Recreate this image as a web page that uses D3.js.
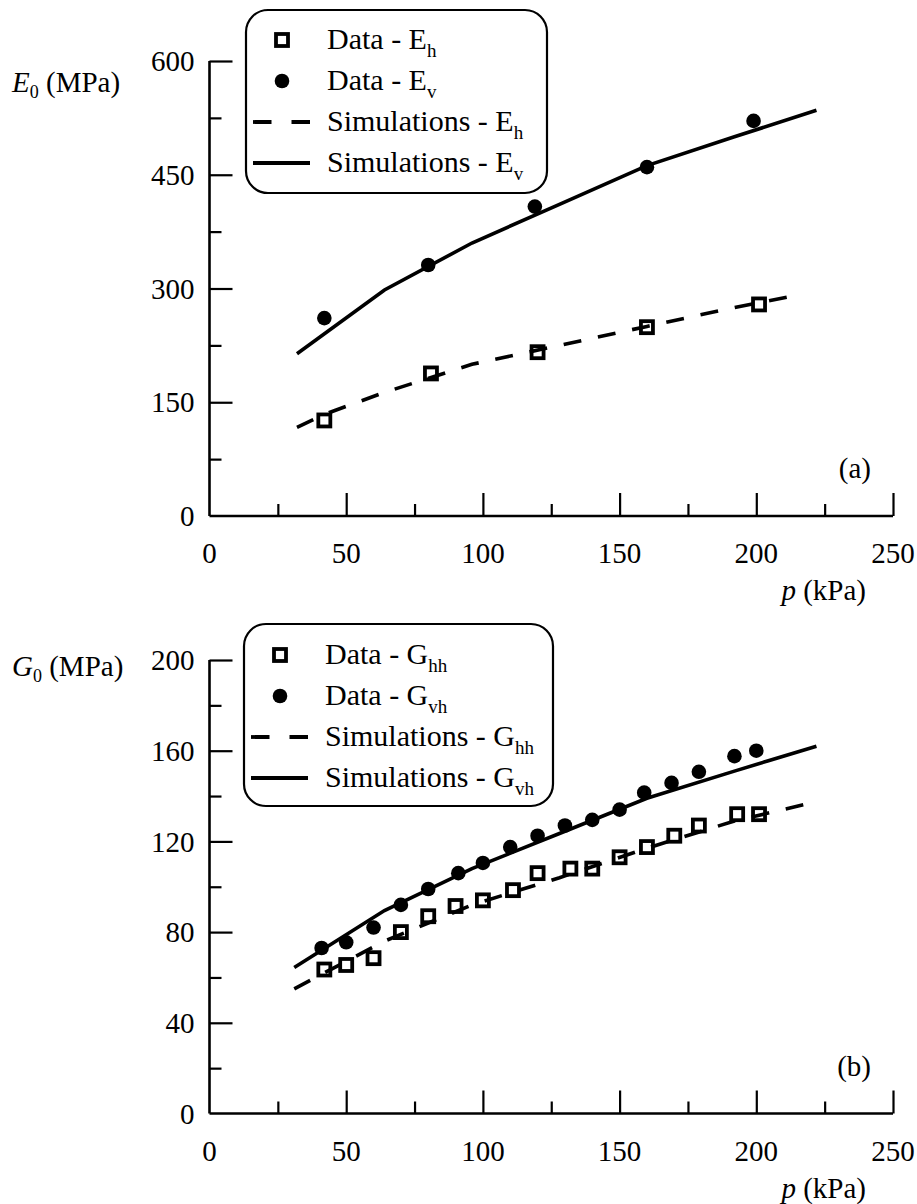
<!DOCTYPE html>
<html>
<head>
<meta charset="utf-8">
<script src="https://cdn.jsdelivr.net/npm/d3@7"></script>
<style>
  html, body { margin: 0; padding: 0; background: #fff; }
</style>
</head>
<body>
<svg id="chart" width="917" height="1204" font-family="'Liberation Serif', 'Times New Roman', Times, serif"></svg>
<script>
// ---- Panel (a): Young's moduli ----
const pEh = [42, 81, 120, 160, 201];
const dataEh = [126, 188, 216, 249, 279];
const pEv = [42, 80, 119, 160, 199];
const dataEv = [261, 331, 408, 460, 521];
const simPEh = [32, 42, 64, 96, 128, 160, 192, 216];
const simEh = [117, 134, 163, 200, 225, 250, 275, 292];
const simPEv = [32, 64, 96, 128, 160, 192, 222];
const simEv = [214, 298, 360, 411, 462, 500, 535];

// ---- Panel (b): shear moduli ----
const pGhh = [42, 50, 60, 70, 80, 90, 100, 111, 120, 132, 140, 150, 160, 170, 179, 193, 201];
const dataGhh = [63.5, 65.5, 68.5, 80, 87, 91.5, 94, 98.5, 106, 108, 108, 113, 117.5, 122.5, 127, 132, 132];
const pGvh = [41, 50, 60, 70, 80, 91, 100, 110, 120, 130, 140, 150, 159, 169, 179, 192, 200];
const dataGvh = [73, 75.5, 82, 92, 99, 106, 110.5, 117.5, 122.5, 127, 129.5, 134, 141.5, 145.8, 150.7, 157.6, 160];
const simPG = [31, 64, 96, 128, 160, 192, 222];
const simGhh = [55, 76, 92, 104, 117, 129, 137.5];
const simGvh = [64.4, 89.5, 108, 123.5, 139, 151, 162];

const xTicksMajor = [0, 50, 100, 150, 200, 250];
const xTicksMinor = [25, 75, 125, 175, 225];
const yTicksA = [0, 150, 300, 450, 600];
const yMinorA = [75, 225, 375, 525];
const yTicksB = [0, 40, 80, 120, 160, 200];
const yMinorB = [20, 60, 100, 140, 180];

const svg = d3.select("#chart");
const X0 = 209.5, X1 = 893;
const MAJOR = 23, MINOR = 12;
const TICK_FS = 29, LEG_FS = 30;

function panel(cfg) {
  const g = svg.append("g");
  const x = d3.scaleLinear().domain([0, 250]).range([X0, X1]);
  const y = d3.scaleLinear().domain(cfg.yDomain).range([cfg.yBottom, cfg.yTop]);

  // minor ticks (inward)
  g.append("g").attr("transform", `translate(0,${cfg.yBottom})`)
    .call(d3.axisBottom(x).tickValues(xTicksMinor).tickSize(-MINOR).tickFormat(""))
    .call(a => a.select(".domain").remove());
  g.append("g").attr("transform", `translate(${X0},0)`)
    .call(d3.axisLeft(y).tickValues(cfg.yMinor).tickSize(-MINOR).tickFormat(""))
    .call(a => a.select(".domain").remove());

  // major ticks
  const xa = g.append("g").attr("transform", `translate(0,${cfg.yBottom})`)
    .call(d3.axisBottom(x).tickValues(xTicksMajor.filter(v => v > 0)).tickSize(-MAJOR).tickSizeOuter(0).tickFormat(""));
  xa.select(".domain").attr("d", `M${X0},0H${X1}`);
  const ya = g.append("g").attr("transform", `translate(${X0},0)`)
    .call(d3.axisLeft(y).tickValues(cfg.yTicks.filter(v => v > 0)).tickSize(-MAJOR).tickSizeOuter(0).tickFormat(""));
  ya.select(".domain").attr("d", `M0,${cfg.yBottom}V${cfg.yTop}`);
  g.selectAll(".tick line").attr("stroke", "#000").attr("stroke-width", 2.2);
  g.selectAll(".domain").attr("stroke", "#000").attr("stroke-width", 2.6);

  // tick labels
  g.selectAll(".ylab").data(cfg.yTicks).join("text")
    .attr("x", X0 - 15).attr("y", d => y(d)).attr("dy", "0.35em")
    .attr("text-anchor", "end").attr("font-size", TICK_FS).text(d => d);
  g.selectAll(".xlab").data(xTicksMajor).join("text")
    .attr("x", d => x(d)).attr("y", cfg.yBottom + 47)
    .attr("text-anchor", "middle").attr("font-size", TICK_FS).text(d => d);

  // axis titles
  const xt = g.append("text").attr("x", 866).attr("y", cfg.yBottom + 84)
    .attr("text-anchor", "end").attr("font-size", TICK_FS);
  xt.append("tspan").attr("font-style", "italic").text("p");
  xt.append("tspan").text(" (kPa)");
  const yt = g.append("text").attr("x", 12).attr("y", cfg.yTitleY).attr("font-size", TICK_FS);
  yt.append("tspan").attr("font-style", "italic").text(cfg.sym);
  yt.append("tspan").attr("font-size", 18).attr("dy", 6).text("0");
  yt.append("tspan").attr("dy", -6).text(" (MPa)");

  g.append("text").attr("x", 871).attr("y", cfg.yBottom - 38)
    .attr("text-anchor", "end").attr("font-size", TICK_FS).text(cfg.tag);

  // simulation curves
  const line = d3.line().x(d => x(d[0])).y(d => y(d[1]));
  g.append("path").datum(d3.zip(cfg.simPDash, cfg.simDash))
    .attr("d", line).attr("fill", "none").attr("stroke", "#000")
    .attr("stroke-width", 3.6).attr("stroke-dasharray", "18,17");
  g.append("path").datum(d3.zip(cfg.simPSolid, cfg.simSolid))
    .attr("d", line).attr("fill", "none").attr("stroke", "#000")
    .attr("stroke-width", 3.6);

  // measured data
  const S = 12;
  g.selectAll(".sq").data(d3.zip(cfg.pSq, cfg.dataSq)).join("rect")
    .attr("x", d => x(d[0]) - S / 2).attr("y", d => y(d[1]) - S / 2)
    .attr("width", S).attr("height", S)
    .attr("fill", "none").attr("stroke", "#000").attr("stroke-width", 3.8);
  g.selectAll(".dot").data(d3.zip(cfg.pDot, cfg.dataDot)).join("circle")
    .attr("cx", d => x(d[0])).attr("cy", d => y(d[1])).attr("r", 7.3).attr("fill", "#000");

  // legend
  const L = cfg.legend;
  const lg = g.append("g");
  lg.append("rect").attr("x", L.x).attr("y", L.y).attr("width", L.w).attr("height", L.h)
    .attr("rx", 22).attr("ry", 22).attr("fill", "#fff").attr("stroke", "#000").attr("stroke-width", 2.2);
  const rows = [
    { kind: "sq", a: "Data - ", s: cfg.subA },
    { kind: "dot", a: "Data - ", s: cfg.subB },
    { kind: "dash", a: "Simulations - ", s: cfg.subA },
    { kind: "solid", a: "Simulations - ", s: cfg.subB }
  ];
  rows.forEach((r, i) => {
    const cy = L.y + L.first + i * L.step;
    const mx = L.x + 36;
    if (r.kind === "sq") {
      lg.append("rect").attr("x", mx - S / 2).attr("y", cy - S / 2).attr("width", S).attr("height", S)
        .attr("fill", "none").attr("stroke", "#000").attr("stroke-width", 3.8);
    } else if (r.kind === "dot") {
      lg.append("circle").attr("cx", mx).attr("cy", cy).attr("r", 7.3).attr("fill", "#000");
    } else {
      lg.append("line").attr("x1", L.x + 7).attr("x2", L.x + 64).attr("y1", cy).attr("y2", cy)
        .attr("stroke", "#000").attr("stroke-width", 3.8)
        .attr("stroke-dasharray", r.kind === "dash" ? "18.5,20" : null);
    }
    const t = lg.append("text").attr("x", L.x + 81).attr("y", cy).attr("dy", "0.3em").attr("font-size", LEG_FS);
    t.append("tspan").text(r.a + cfg.sym);
    t.append("tspan").attr("font-size", 19).attr("dy", 8).text(r.s);
  });
}

panel({
  yDomain: [0, 600], yBottom: 516, yTop: 61,
  yTicks: yTicksA, yMinor: yMinorA, sym: "E", yTitleY: 92, tag: "(a)",
  pSq: pEh, dataSq: dataEh, pDot: pEv, dataDot: dataEv,
  simPDash: simPEh, simDash: simEh, simPSolid: simPEv, simSolid: simEv,
  subA: "h", subB: "v",
  legend: { x: 246, y: 10, w: 301, h: 183, first: 30, step: 41 }
});

panel({
  yDomain: [0, 200], yBottom: 1113.5, yTop: 660,
  yTicks: yTicksB, yMinor: yMinorB, sym: "G", yTitleY: 676, tag: "(b)",
  pSq: pGhh, dataSq: dataGhh, pDot: pGvh, dataDot: dataGvh,
  simPDash: simPG, simDash: simGhh, simPSolid: simPG, simSolid: simGvh,
  subA: "hh", subB: "vh",
  legend: { x: 244, y: 624, w: 309, h: 182, first: 31, step: 41 }
});
</script>
</body>
</html>
